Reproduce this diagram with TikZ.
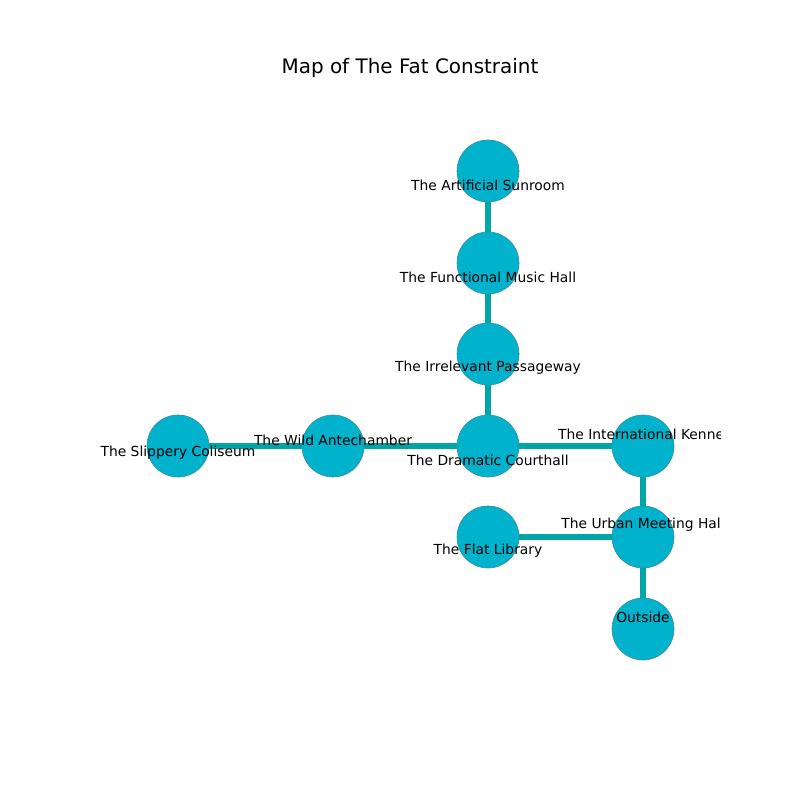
\documentclass[tikz,border=0pt]{standalone}
\usepackage{fontspec}
\setmainfont{DejaVu Sans}
\definecolor{roomfill}{HTML}{00B2CC}
\definecolor{roomline}{HTML}{3C8A99}
\definecolor{hallway}{HTML}{00A6A6}
\tikzset{
  room/.style={circle, draw=roomline, line width=0.4pt, fill=roomfill, minimum size=0.62in, inner sep=0pt},
  roomname/.style={inner sep=0pt, font=\fontsize{10}{12}\selectfont},
  link/.style={draw=hallway, line width=4pt}
}
\begin{document}
\begin{tikzpicture}[x=0.01in, y=-0.01in]
\useasboundingbox (0,0) rectangle (800,800);
\node (title) at (410,68) {\fontsize{14.4}{17}\selectfont Map of The Fat Constraint};
% rooms
\node[room] (sun) at (488,171) {};
\node[room] (mus) at (488,263) {};
\node[room] (pas) at (488,354) {};
\node[room] (cou) at (488,446) {};
\node[room] (ant) at (333,446) {};
\node[room] (col) at (178,446) {};
\node[room] (ken) at (643,446) {};
\node[room] (hal) at (643,537) {};
\node[room] (lib) at (488,537) {};
\node[room] (out) at (643,629) {};
% hallways
\draw[link] (sun) -- (mus);
\draw[link] (mus) -- (pas);
\draw[link] (pas) -- (cou);
\draw[link] (cou) -- (ant);
\draw[link] (ant) -- (col);
\draw[link] (cou) -- (ken);
\draw[link] (ken) -- (hal);
\draw[link] (hal) -- (lib);
\draw[link] (hal) -- (out);
% labels
\begin{scope}
\clip (100,96) rectangle (720,712);
\node[roomname] (lsun) at (488,185) {The Artificial Sunroom};
\node[roomname] (lmus) at (488,277) {The Functional Music Hall};
\node[roomname] (lpas) at (488,368) {The Irrelevant Passageway};
\node[roomname] (lcou) at (488,460) {The Dramatic Courthall};
\node[roomname] (lant) at (333,440) {The Wild Antechamber};
\node[roomname] (lcol) at (178,453) {The Slippery Coliseum};
\node[roomname] (lken) at (643,434) {The International Kennel};
\node[roomname] (lhal) at (643,525) {The Urban Meeting Hall};
\node[roomname] (llib) at (488,551) {The Flat Library};
\node[roomname] (lout) at (643,617) {Outside};
\end{scope}
\end{tikzpicture}
\end{document}
